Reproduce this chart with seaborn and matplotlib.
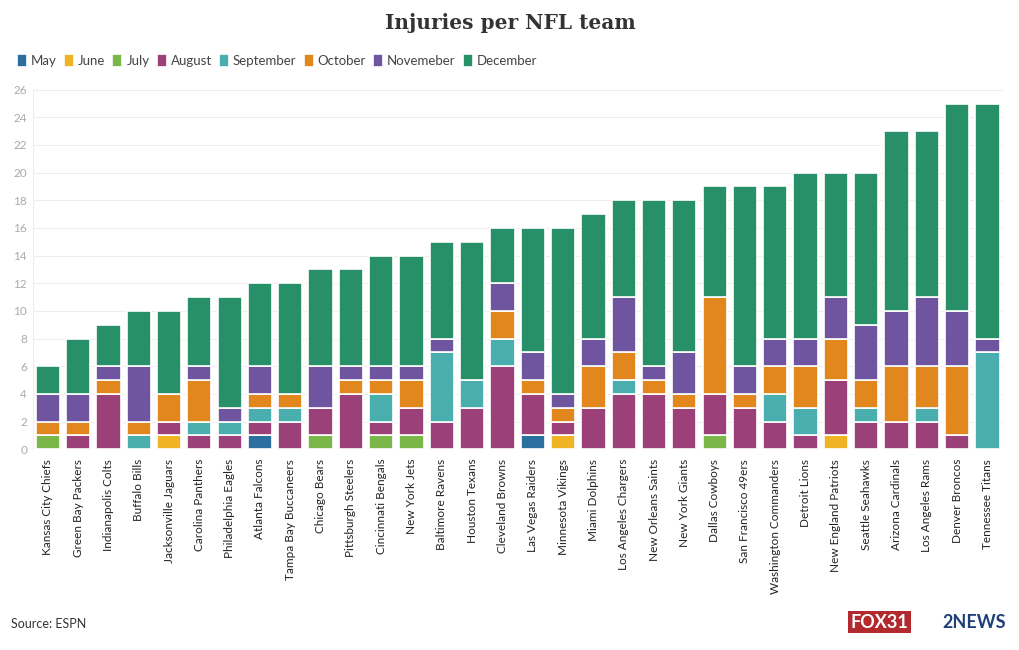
import numpy as np
import pandas as pd
import matplotlib.pyplot as plt
import seaborn as sns

teams = ["Kansas City Chiefs", "Green Bay Packers", "Indianapolis Colts", "Buffalo Bills",
         "Jacksonville Jaguars", "Carolina Panthers", "Philadelphia Eagles", "Atlanta Falcons",
         "Tampa Bay Buccaneers", "Chicago Bears", "Pittsburgh Steelers", "Cincinnati Bengals",
         "New York Jets", "Baltimore Ravens", "Houston Texans", "Cleveland Browns",
         "Las Vegas Raiders", "Minnesota Vikings", "Miami Dolphins", "Los Angeles Chargers",
         "New Orleans Saints", "New York Giants", "Dallas Cowboys", "San Francisco 49ers",
         "Washington Commanders", "Detroit Lions", "New England Patriots", "Seattle Seahawks",
         "Arizona Cardinals", "Los Angeles Rams", "Denver Broncos", "Tennessee Titans"]

months = ["May", "June", "July", "August", "September", "October", "Novemeber", "December"]

may       = [0,0,0,0,0,0,0,1,0,0,0,0,0,0,0,0,1,0,0,0,0,0,0,0,0,0,0,0,0,0,0,0]
june      = [0,0,0,0,1,0,0,0,0,0,0,0,0,0,0,0,0,1,0,0,0,0,0,0,0,0,1,0,0,0,0,0]
july      = [1,0,0,0,0,0,0,0,0,1,0,1,1,0,0,0,0,0,0,0,0,0,1,0,0,0,0,0,0,0,0,0]
august    = [0,1,4,0,1,1,1,1,2,2,4,1,2,2,3,6,3,1,3,4,4,3,3,3,2,1,4,2,2,2,1,0]
september = [0,0,0,1,0,1,1,1,1,0,0,2,0,5,2,2,0,0,0,1,0,0,0,0,2,2,0,1,0,1,0,7]
october   = [1,1,1,1,2,3,0,1,1,0,1,1,2,0,0,2,1,1,3,2,1,1,7,1,2,3,3,2,4,3,5,0]
november  = [2,2,1,4,0,1,1,2,0,3,1,1,1,1,0,2,2,1,2,4,1,3,0,2,2,2,3,4,4,5,4,1]
december  = [2,4,3,4,6,5,8,6,8,7,7,8,8,7,10,4,9,12,9,7,12,11,8,13,11,12,9,11,13,12,15,17]

colors = ["#2b6f9e", "#f0b323", "#7ab648", "#9c4079", "#4aaeae", "#e2871d", "#6f559f", "#279069"]

series = [may, june, july, august, september, october, november, december]

sns.set_style("white")
plt.rcParams['font.family'] = ['Lato', 'DejaVu Sans']

fig = plt.figure(figsize=(10.2, 6.5), dpi=100)
ax = fig.add_axes([0.032, 0.309, 0.951, 0.553])

bottom = np.zeros(len(teams))
for month, vals, col in zip(months, series, colors):
    df = pd.DataFrame({"team": teams, "count": vals})
    sns.barplot(data=df, x="team", y="count", color=col, bottom=bottom, width=0.8,
                saturation=1, edgecolor="white", linewidth=1.2, ax=ax, label=month)
    bottom += np.array(vals)

ax.set_ylim(0, 26)
ax.set_xlim(-0.5, len(teams) - 0.5)
ax.set_yticks(range(0, 27, 2))
ax.yaxis.grid(True, color="#eeeeee", linewidth=0.8)
ax.set_axisbelow(True)
for s in ["top", "right", "bottom"]:
    ax.spines[s].set_visible(False)
ax.spines["left"].set_color("#eeeeee")
ax.set_xlabel("")
ax.set_ylabel("")
ax.tick_params(axis="y", labelsize=8.5, colors="#aaaaaa", length=0, pad=4)
ax.tick_params(axis="x", labelsize=8.5, colors="#333333", length=3, pad=4)
plt.setp(ax.get_xticklabels(), rotation=90, color="#222222")

handles, labels = ax.get_legend_handles_labels()
if ax.get_legend():
    ax.get_legend().remove()
fig.legend(handles, labels, loc="upper left", bbox_to_anchor=(0.005, 0.935), ncol=8,
           frameon=False, fontsize=9.5, handlelength=0.75, handleheight=1.1,
           handletextpad=0.3, columnspacing=0.55, labelcolor="#444444")

fig.text(0.5, 0.965, "Injuries per NFL team", ha="center", va="center",
         fontsize=14.5, fontweight="bold", family="DejaVu Serif", color="#333333")
fig.text(0.011, 0.04, "Source: ESPN", ha="left", va="center", fontsize=9, color="#333333")

# station logo stand-in
fig.text(0.862, 0.043, "FOX31", ha="center", va="center", fontsize=13, fontweight="bold",
         color="white", bbox=dict(boxstyle="square,pad=0.15", fc="#b22a2e", ec="none"))
fig.text(0.955, 0.043, "2NEWS", ha="center", va="center", fontsize=13, fontweight="bold",
         color="#1d3f7a")

fig.savefig("out.png", dpi=100)
